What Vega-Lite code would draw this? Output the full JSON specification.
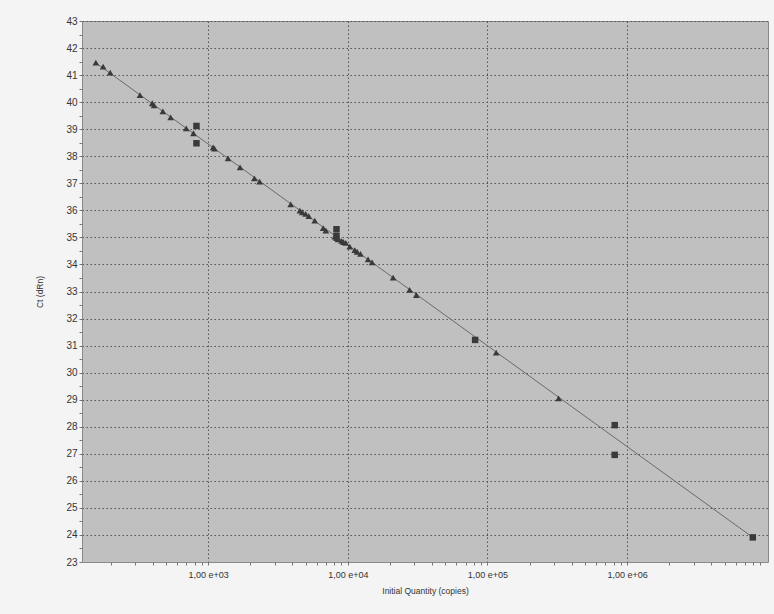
{
  "$schema": "https://vega.github.io/schema/vega-lite/v6.json",
  "width": 686,
  "height": 541,
  "autosize": {"type": "none"},
  "padding": {"left": 82, "top": 21, "right": 6, "bottom": 52},
  "background": "#f4f4f4",
  "config": {
    "view": {"fill": "#c0c0c0", "stroke": "#8a8a8a", "strokeWidth": 1},
    "font": "Liberation Sans"
  },
  "datasets": {
    "fit": [
      {"quantity": 157, "ct": 41.45},
      {"quantity": 7940000, "ct": 23.91}
    ],
    "points": [
      {"quantity": 157, "ct": 41.46, "sample": "Unknown"},
      {"quantity": 177, "ct": 41.31, "sample": "Unknown"},
      {"quantity": 199, "ct": 41.09, "sample": "Unknown"},
      {"quantity": 325, "ct": 40.26, "sample": "Unknown"},
      {"quantity": 398, "ct": 39.96, "sample": "Unknown"},
      {"quantity": 410, "ct": 39.88, "sample": "Unknown"},
      {"quantity": 474, "ct": 39.66, "sample": "Unknown"},
      {"quantity": 539, "ct": 39.44, "sample": "Unknown"},
      {"quantity": 697, "ct": 39.03, "sample": "Unknown"},
      {"quantity": 785, "ct": 38.85, "sample": "Unknown"},
      {"quantity": 1086, "ct": 38.33, "sample": "Unknown"},
      {"quantity": 1110, "ct": 38.28, "sample": "Unknown"},
      {"quantity": 1389, "ct": 37.92, "sample": "Unknown"},
      {"quantity": 1693, "ct": 37.59, "sample": "Unknown"},
      {"quantity": 2143, "ct": 37.18, "sample": "Unknown"},
      {"quantity": 2337, "ct": 37.06, "sample": "Unknown"},
      {"quantity": 3900, "ct": 36.22, "sample": "Unknown"},
      {"quantity": 4540, "ct": 35.99, "sample": "Unknown"},
      {"quantity": 4720, "ct": 35.93, "sample": "Unknown"},
      {"quantity": 4990, "ct": 35.87, "sample": "Unknown"},
      {"quantity": 5260, "ct": 35.79, "sample": "Unknown"},
      {"quantity": 5800, "ct": 35.62, "sample": "Unknown"},
      {"quantity": 6660, "ct": 35.34, "sample": "Unknown"},
      {"quantity": 6960, "ct": 35.25, "sample": "Unknown"},
      {"quantity": 8070, "ct": 35.03, "sample": "Unknown"},
      {"quantity": 8300, "ct": 34.97, "sample": "Unknown"},
      {"quantity": 8530, "ct": 34.93, "sample": "Unknown"},
      {"quantity": 9020, "ct": 34.87, "sample": "Unknown"},
      {"quantity": 9300, "ct": 34.83, "sample": "Unknown"},
      {"quantity": 9680, "ct": 34.8, "sample": "Unknown"},
      {"quantity": 10330, "ct": 34.66, "sample": "Unknown"},
      {"quantity": 11220, "ct": 34.53, "sample": "Unknown"},
      {"quantity": 11660, "ct": 34.47, "sample": "Unknown"},
      {"quantity": 12330, "ct": 34.39, "sample": "Unknown"},
      {"quantity": 13970, "ct": 34.19, "sample": "Unknown"},
      {"quantity": 14920, "ct": 34.08, "sample": "Unknown"},
      {"quantity": 21100, "ct": 33.51, "sample": "Unknown"},
      {"quantity": 27700, "ct": 33.06, "sample": "Unknown"},
      {"quantity": 30970, "ct": 32.87, "sample": "Unknown"},
      {"quantity": 115400, "ct": 30.74, "sample": "Unknown"},
      {"quantity": 323000, "ct": 29.05, "sample": "Unknown"},
      {"quantity": 825, "ct": 39.12, "sample": "Standard"},
      {"quantity": 825, "ct": 38.48, "sample": "Standard"},
      {"quantity": 8300, "ct": 35.3, "sample": "Standard"},
      {"quantity": 8300, "ct": 35.05, "sample": "Standard"},
      {"quantity": 81600, "ct": 31.21, "sample": "Standard"},
      {"quantity": 815000, "ct": 28.06, "sample": "Standard"},
      {"quantity": 815000, "ct": 26.96, "sample": "Standard"},
      {"quantity": 7940000, "ct": 23.91, "sample": "Standard"}
    ]
  },
  "encoding": {
    "x": {
      "field": "quantity",
      "type": "quantitative",
      "title": "Initial Quantity (copies)",
      "scale": {"type": "log", "domain": [125, 10200000], "nice": false},
      "axis": {
        "values": [200, 300, 400, 500, 600, 700, 800, 900, 1000, 2000, 3000, 4000, 5000, 6000, 7000, 8000, 9000, 10000, 20000, 30000, 40000, 50000, 60000, 70000, 80000, 90000, 100000, 200000, 300000, 400000, 500000, 600000, 700000, 800000, 900000, 1000000, 2000000, 3000000, 4000000, 5000000, 6000000, 7000000, 8000000, 9000000],
        "labelExpr": "indexof([1000, 10000, 100000, 1000000], datum.value) >= 0 ? '1,00 e+0' + round(log(datum.value) / LN10) : ''",
        "grid": true,
        "gridColor": "#555555",
        "gridDash": [1.5, 2.5],
        "gridWidth": 1,
        "gridOpacity": {"condition": {"test": "indexof([1000, 10000, 100000, 1000000], datum.value) >= 0", "value": 1}, "value": 0},
        "tickSize": 3,
        "tickColor": "#777777",
        "domain": false,
        "labelPadding": 5,
        "labelFontSize": 9,
        "labelColor": "#333333",
        "labelOverlap": false,
        "labelFlush": false,
        "titleFontSize": 8.5,
        "titleFontWeight": "normal",
        "titleColor": "#333333",
        "titlePadding": 7
      }
    },
    "y": {
      "field": "ct",
      "type": "quantitative",
      "title": "Ct (dRn)",
      "scale": {"domain": [23, 43], "nice": false, "zero": false},
      "axis": {
        "values": [23, 23.5, 24, 24.5, 25, 25.5, 26, 26.5, 27, 27.5, 28, 28.5, 29, 29.5, 30, 30.5, 31, 31.5, 32, 32.5, 33, 33.5, 34, 34.5, 35, 35.5, 36, 36.5, 37, 37.5, 38, 38.5, 39, 39.5, 40, 40.5, 41, 41.5, 42, 42.5, 43],
        "labelExpr": "datum.value % 1 == 0 ? format(datum.value, 'd') : ''",
        "grid": true,
        "gridColor": "#555555",
        "gridDash": [1.5, 2.5],
        "gridWidth": 1,
        "gridOpacity": {"condition": {"test": "datum.value % 1 == 0 && datum.value > 23", "value": 1}, "value": 0},
        "tickSize": 3,
        "tickColor": "#777777",
        "domain": false,
        "labelPadding": 2,
        "labelFontSize": 10,
        "labelColor": "#333333",
        "labelOverlap": false,
        "labelFlush": false,
        "titleFontSize": 8.5,
        "titleFontWeight": "normal",
        "titleColor": "#333333",
        "titlePadding": 21
      }
    }
  },
  "layer": [
    {
      "data": {"name": "fit"},
      "mark": {"type": "line", "color": "#6a6a6a", "strokeWidth": 1}
    },
    {
      "data": {"name": "points"},
      "mark": {"type": "point", "filled": true, "opacity": 1, "color": "#3a3a3a"},
      "encoding": {
        "shape": {"field": "sample", "type": "nominal", "scale": {"domain": ["Standard", "Unknown"], "range": ["square", "triangle-up"]}, "legend": null},
        "size": {"field": "sample", "type": "nominal", "scale": {"domain": ["Standard", "Unknown"], "range": [42, 45]}, "legend": null}
      }
    }
  ]
}
